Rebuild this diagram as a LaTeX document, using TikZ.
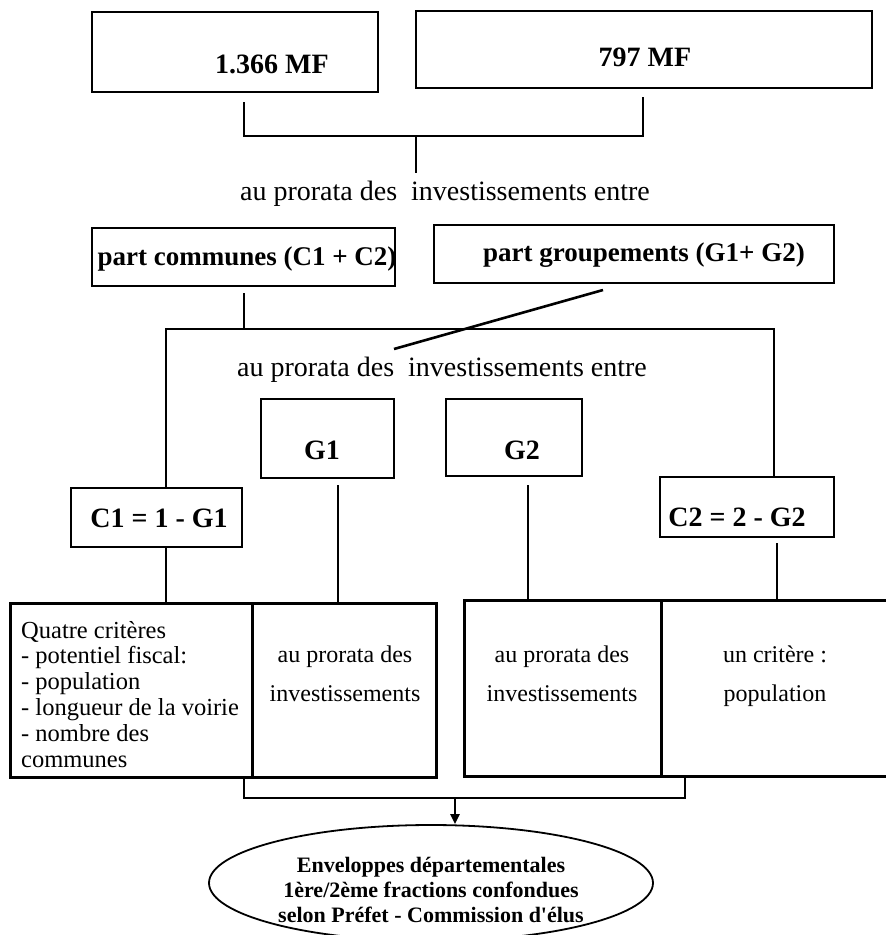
\documentclass[tikz,border=0pt]{standalone}
\usepackage{fontspec}
\setmainfont{Liberation Serif}
\usetikzlibrary{arrows.meta,shapes.geometric}
\begin{document}
\begin{tikzpicture}[x=1pt,y=-1pt,
  box/.style={draw,line width=1.6pt,inner sep=0pt,rectangle},
  bigbox/.style={draw,line width=3pt,inner sep=0pt,rectangle},
  conn/.style={line width=2.2pt},
  bt/.style={font=\fontsize{28}{30}\selectfont\bfseries,inner sep=0pt},
  rt/.style={font=\fontsize{28}{30}\selectfont,inner sep=0pt,anchor=base},
  st/.style={font=\fontsize{24}{26}\selectfont,inner sep=0pt,anchor=base},
  stl/.style={font=\fontsize{24.5}{26}\selectfont,inner sep=0pt,anchor=base west},
  et/.style={font=\fontsize{22}{25}\selectfont\bfseries,inner sep=0pt,anchor=base},
]
\useasboundingbox (0,0) rectangle (886,935);
% top boxes
\node[box,minimum width=286pt,minimum height=80pt] (mfa) at (235,52) {};
\node[bt] (mfat) at (272,64) {1.366 MF};
\node[box,minimum width=456pt,minimum height=77pt] (mfb) at (644,49.5) {};
\node[bt] (mfbt) at (645,57) {797 MF};
% bracket 1
\coordinate (b1l) at (244,102);
\coordinate (b1r) at (643,97);
\coordinate (b1m) at (416,136);
\coordinate (b1s) at (416,173);
\draw[conn] (b1l) |- (b1m) -| (b1r);
\draw[conn] (b1m) -- (b1s);
\node[rt] (txa) at (445,200) {au prorata des~~investissements entre};
% part boxes
\node[box,minimum width=303pt,minimum height=58pt] (pc) at (243.5,257) {};
\node[font=\fontsize{27}{30}\selectfont\bfseries,inner sep=0pt] (pct) at (247,259) {part communes (C1 + C2)};
\node[box,minimum width=400pt,minimum height=58pt] (pg) at (634,254) {};
\node[font=\fontsize{27}{30}\selectfont\bfseries,inner sep=0pt] (pgt) at (644,255) {part groupements (G1+ G2)};
% second level connectors
\coordinate (pcs) at (244,293);
\coordinate (h2m) at (244,329);
\coordinate (h2l) at (166,329);
\coordinate (h2r) at (774,329);
\coordinate (dga) at (603,290);
\coordinate (dgb) at (394,349);
\draw[conn] (pcs) -- (h2m);
\draw[conn,line width=2.6pt] (dga) -- (dgb);
\node[rt] (txb) at (442,376) {au prorata des~~investissements entre};
% G boxes
\node[box,minimum width=133pt,minimum height=79pt] (g1) at (327.5,438.5) {};
\node[bt] (g1t) at (322,450) {G1};
\node[box,minimum width=136pt,minimum height=77pt] (g2) at (514,437.5) {};
\node[bt] (g2t) at (522,450) {G2};
% C boxes
\node[box,minimum width=171pt,minimum height=59pt] (c1) at (156.5,517.5) {};
\node[bt] (c1t) at (159,518) {C1 = 1 - G1};
\node[box,minimum width=174pt,minimum height=60pt] (c2) at (747,507) {};
\node[bt] (c2t) at (737,517) {C2 = 2 - G2};
\draw[conn] (c1.north -| h2l) |- (h2r) -- (c2.north -| h2r);
% bottom boxes
\node[bigbox,minimum width=242pt,minimum height=174pt] (l1) at (131,690) {};
\node[bigbox,minimum width=184pt,minimum height=174pt] (l2) at (344,690) {};
\node[bigbox,minimum width=197pt,minimum height=176pt] (r1) at (562.5,688) {};
\node[bigbox,minimum width=229pt,minimum height=176pt] (r2) at (775.5,688) {};
% vertical connectors to bottom boxes
\draw[conn] (c1.south -| h2l) -- (l1.north -| h2l);
\coordinate (g1a) at (338,485);
\coordinate (g2a) at (528,485);
\coordinate (c2a) at (777,543);
\draw[conn] (g1a) -- (g1a |- l2.north);
\draw[conn] (g2a) -- (g2a |- r1.north);
\draw[conn] (c2a) -- (c2a |- r2.north);
% texts bottom boxes
\node[stl] (q1) at (21,638) {Quatre critères};
\node[stl] (q2) at (21,663.5) {- potentiel fiscal:};
\node[stl] (q3) at (21,689.5) {- population};
\node[stl] (q4) at (21,715.5) {- longueur de la voirie};
\node[stl] (q5) at (21,741.5) {- nombre des};
\node[stl] (q6) at (21,767) {communes};
\node[st] (p1a) at (345,662) {au prorata des};
\node[st] (p1b) at (345,701) {investissements};
\node[st] (p2a) at (562,662) {au prorata des};
\node[st] (p2b) at (562,701) {investissements};
\node[st] (u1) at (775,662) {un critère :};
\node[st] (u2) at (775,701) {population};
% bottom bracket and ellipse
\node[draw,ellipse,line width=1.8pt,minimum width=444pt,minimum height=116pt,inner sep=0pt] (env) at (431,883) {};
\node[et] (e1) at (431,872) {Enveloppes départementales};
\node[et] (e2) at (431,897) {1ère/2ème fractions confondues};
\node[et] (e3) at (431,922) {selon Préfet - Commission d\textquotesingle élus};
\coordinate (b3l) at (244,777);
\coordinate (b3r) at (685,776);
\coordinate (b3m) at (455,798);
\draw[conn] (b3l) |- (b3m) -| (b3r);
\draw[conn,-{Triangle[length=10pt,width=9pt]}] (b3m) -- (b3m |- env.north);
\end{tikzpicture}
\end{document}
